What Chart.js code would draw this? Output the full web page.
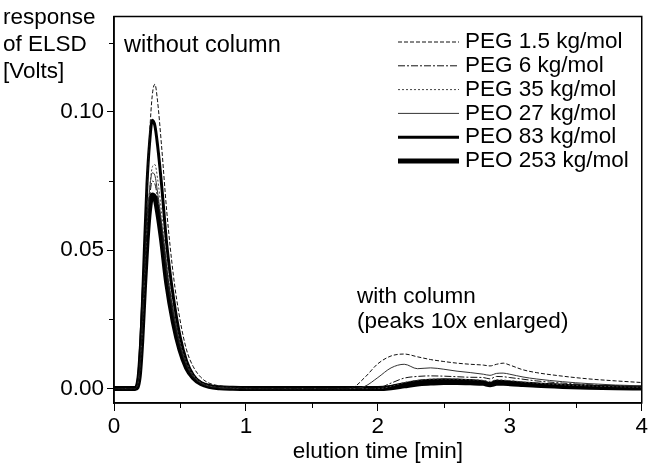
<!DOCTYPE html>
<html>
<head>
<meta charset="utf-8">
<script src="https://cdn.jsdelivr.net/npm/chart.js@4.4.1/dist/chart.umd.min.js"></script>
<style>
html,body{margin:0;padding:0;background:#fff;}
#wrap{width:650px;height:465px;position:relative;}
</style>
</head>
<body>
<div id="wrap"><canvas id="c" width="650" height="465"></canvas></div>
<script>
// elution time [min]
const time = [0, 0.16, 0.19, 0.21, 0.23, 0.25, 0.27, 0.29, 0.31, 0.33, 0.36, 0.40, 0.45, 0.50, 0.55, 0.60, 0.66, 0.72, 0.80, 0.90, 1.00,
  1.50, 1.80, 1.90, 2.00, 2.10, 2.20, 2.30, 2.40, 2.50, 2.60, 2.70, 2.80, 2.85, 2.90, 2.95, 3.00, 3.10, 3.20, 3.40, 3.60, 3.80, 4.00];

const seriesNames = ['PEG 1.5 kg/mol', 'PEG 6 kg/mol', 'PEG 35 kg/mol', 'PEO 27 kg/mol', 'PEO 83 kg/mol', 'PEO 253 kg/mol'];

const peg1_5 = [0, 0, 0.004, 0.018, 0.042, 0.070, 0.092, 0.106, 0.110, 0.104, 0.088, 0.064, 0.041, 0.025, 0.014, 0.008, 0.004, 0.002, 0.001, 0.0005, 0.0002,
  0, 0.0003, 0.004, 0.009, 0.0118, 0.0125, 0.0115, 0.0105, 0.0098, 0.0092, 0.0088, 0.0085, 0.0082, 0.0088, 0.0092, 0.0085, 0.0068, 0.0058, 0.0045, 0.0035, 0.0028, 0.0022];
const peg6 = [0, 0, 0.005, 0.019, 0.039, 0.057, 0.069, 0.075, 0.074, 0.069, 0.058, 0.041, 0.026, 0.015, 0.008, 0.004, 0.0018, 0.0008, 0.0003, 0.0001, 0,
  0, 0, 0, 0.0002, 0.002, 0.0038, 0.0044, 0.0046, 0.0045, 0.0043, 0.0041, 0.0040, 0.0035, 0.0044, 0.0043, 0.0040, 0.0034, 0.0028, 0.0020, 0.0014, 0.0010, 0.0007];
const peg35 = [0, 0, 0.004, 0.017, 0.038, 0.058, 0.072, 0.080, 0.081, 0.076, 0.064, 0.046, 0.029, 0.017, 0.0095, 0.005, 0.0022, 0.001, 0.0004, 0.0002, 0,
  0, 0, 0, 0, 0.0008, 0.0022, 0.0030, 0.0034, 0.0035, 0.0034, 0.0032, 0.0030, 0.0026, 0.0032, 0.0031, 0.0029, 0.0024, 0.0020, 0.0014, 0.0010, 0.0007, 0.0005];
const peo27 = [0, 0, 0.005, 0.019, 0.040, 0.059, 0.072, 0.078, 0.077, 0.071, 0.060, 0.042, 0.027, 0.016, 0.0085, 0.0045, 0.002, 0.0009, 0.0003, 0.0001, 0,
  0, 0, 0.0008, 0.004, 0.0075, 0.0088, 0.0072, 0.0075, 0.0070, 0.0063, 0.0058, 0.0052, 0.0048, 0.0055, 0.0056, 0.0052, 0.0042, 0.0035, 0.0025, 0.0018, 0.0013, 0.0010];
const peo83 = [0, 0, 0.006, 0.024, 0.050, 0.074, 0.089, 0.097, 0.095, 0.088, 0.074, 0.052, 0.033, 0.019, 0.010, 0.005, 0.002, 0.001, 0.0004, 0.0002, 0,
  0, 0, 0, 0, 0.0008, 0.0018, 0.0026, 0.0030, 0.0032, 0.0031, 0.0029, 0.0025, 0.0018, 0.0027, 0.0026, 0.0024, 0.0020, 0.0017, 0.0012, 0.0008, 0.0005, 0.0003];
const peo253 = [0, 0, 0.004, 0.017, 0.036, 0.053, 0.065, 0.070, 0.069, 0.064, 0.054, 0.038, 0.024, 0.014, 0.0075, 0.004, 0.0018, 0.0008, 0.0003, 0.0001, 0,
  0, 0, 0, 0, 0.0003, 0.0010, 0.0017, 0.0020, 0.0022, 0.0022, 0.0021, 0.0019, 0.0014, 0.0019, 0.0019, 0.0018, 0.0015, 0.0012, 0.0008, 0.0005, 0.0003, 0.0002];

const xTicks = [0, 1, 2, 3, 4];
const xMinorTicks = [0.5, 1.5, 2.5, 3.5];
const yTicks = [0.00, 0.05, 0.10];
const yMinorTicks = [0.025, 0.075, 0.125];

const yTitleLines = ['response', 'of ELSD', '[Volts]'];
const xTitle = 'elution time [min]';
const noteLeft = 'without column';
const noteRight = ['with column', '(peaks 10x enlarged)'];

const allValues = [peg1_5, peg6, peg35, peo27, peo83, peo253];
const styles = [
  {color: '#111', width: 1, dash: [4, 2]},
  {color: '#111', width: 1, dash: [7, 2, 2, 2]},
  {color: '#444', width: 1, dash: [2, 2]},
  {color: '#333', width: 1, dash: []},
  {color: '#000', width: 3, dash: []},
  {color: '#000', width: 5, dash: []}
];

const FONT = '"Liberation Sans", Arial, sans-serif';
const FS = 22.5;
Chart.defaults.font.family = FONT;
Chart.defaults.color = '#000';

const datasets = seriesNames.map((name, i) => ({
  label: name,
  data: time.map((t, k) => ({x: t, y: allValues[i][k]})),
  borderColor: styles[i].color,
  borderWidth: styles[i].width,
  borderDash: styles[i].dash,
  pointRadius: 0,
  fill: false,
  cubicInterpolationMode: 'monotone'
}));

const decor = {
  id: 'decor',
  afterDraw(chart) {
    const ctx = chart.ctx;
    const a = chart.chartArea;
    const xs = chart.scales.x, ys = chart.scales.y;
    ctx.save();
    // frame
    ctx.strokeStyle = '#000';
    ctx.lineWidth = 1.5;
    ctx.setLineDash([]);
    ctx.strokeRect(a.left, a.top, a.right - a.left, a.bottom - a.top);
    // minor ticks
    ctx.lineWidth = 1;
    xMinorTicks.forEach(v => {
      const px = Math.round(xs.getPixelForValue(v)) + 0.5;
      ctx.beginPath(); ctx.moveTo(px, a.bottom); ctx.lineTo(px, a.bottom + 5); ctx.stroke();
    });
    yMinorTicks.forEach(v => {
      const py = Math.round(ys.getPixelForValue(v)) + 0.5;
      ctx.beginPath(); ctx.moveTo(a.left, py); ctx.lineTo(a.left - 5, py); ctx.stroke();
    });
    // y title
    ctx.fillStyle = '#000';
    ctx.font = FS + 'px ' + FONT;
    ctx.textAlign = 'left';
    ctx.textBaseline = 'middle';
    yTitleLines.forEach((s, i) => ctx.fillText(s, 3, 18 + i * 27));
    // notes
    ctx.font = '23.5px ' + FONT;
    ctx.fillText(noteLeft, 124, 46);
    ctx.font = FS + 'px ' + FONT;
    noteRight.forEach((s, i) => ctx.fillText(s, 357, 297 + i * 25));
    // legend
    seriesNames.forEach((name, i) => {
      const y = 42 + i * 23.8;
      ctx.strokeStyle = styles[i].color;
      ctx.lineWidth = styles[i].width;
      ctx.setLineDash(styles[i].dash);
      ctx.beginPath(); ctx.moveTo(398, y); ctx.lineTo(459, y); ctx.stroke();
      ctx.setLineDash([]);
      ctx.fillStyle = '#000';
      ctx.fillText(name, 465, y);
    });
    ctx.restore();
  }
};

new Chart(document.getElementById('c'), {
  type: 'line',
  data: {datasets},
  options: {
    responsive: false,
    animation: false,
    devicePixelRatio: 1,
    layout: {padding: {top: 12, right: 4, left: 0, bottom: 0}},
    plugins: {legend: {display: false}, tooltip: {enabled: false}},
    scales: {
      x: {
        type: 'linear', min: 0, max: 4,
        afterBuildTicks: s => { s.ticks = xTicks.map(v => ({value: v})); },
        afterFit: s => { s.height = 62; },
        ticks: {font: {size: FS}, color: '#000', padding: 2, maxRotation: 0},
        grid: {drawOnChartArea: false, tickLength: 8, color: '#000', tickWidth: 1},
        border: {display: true, color: '#000', width: 1.5},
        title: {display: true, text: xTitle, font: {size: FS}, color: '#000', padding: {top: 0, bottom: 0}}
      },
      y: {
        type: 'linear', min: -0.0052, max: 0.1345,
        afterBuildTicks: s => { s.ticks = yTicks.map(v => ({value: v})); },
        afterFit: s => { s.width = 114; },
        ticks: {font: {size: FS}, color: '#000', padding: 3, callback: v => v.toFixed(2)},
        grid: {drawOnChartArea: false, tickLength: 7, color: '#000', tickWidth: 1},
        border: {display: true, color: '#000', width: 1.5}
      }
    }
  },
  plugins: [decor]
});
</script>
</body>
</html>
